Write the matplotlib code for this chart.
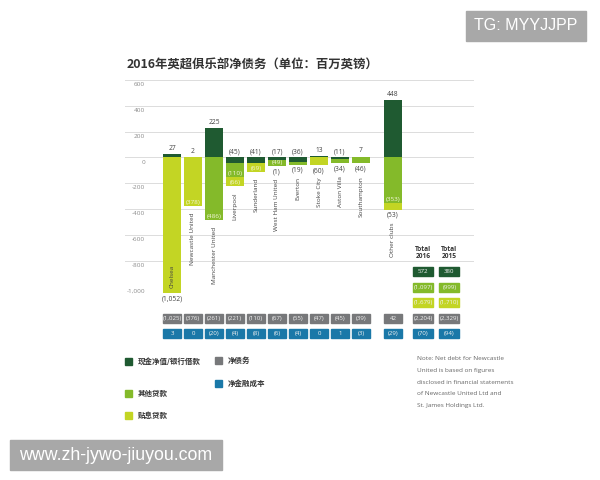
import matplotlib
matplotlib.use("Agg")
import matplotlib.pyplot as plt
from matplotlib.patches import Rectangle

# ---------------- data ----------------
clubs = ["Chelsea", "Newcastle United", "Manchester United", "Liverpool", "Sunderland",
         "West Ham United", "Everton", "Stoke City", "Aston Villa", "Southampton", "Other clubs"]
cash_bank = [27, 2, 225, -45, -41, -17, -36, 13, -11, 7, 448]
other_loans = [0, 0, -486, -110, 0, -49, -19, 0, -34, -46, -353]
soft_loans = [-1052, -378, 0, -66, -69, -1, 0, -60, 0, 0, -53]
net_debt = [-1025, -376, -261, -221, -110, -67, -55, -47, -45, -39, 42]
net_finance = [3, 0, -20, -4, -8, -6, -4, 0, 1, -3, -29]

total_labels = ["Total\n2016", "Total\n2015"]
total_cash = [572, 380]
total_other = [-1097, -999]
total_soft = [-1679, -1710]
total_net = [-2204, -2329]
total_fin = [-70, -94]

yticks = [600, 400, 200, 0, -200, -400, -600, -800, -1000]

title = "2016年英超俱乐部净债务（单位：百万英镑）"
legend_labels = ["现金净值/银行借款", "其他贷款", "贴息贷款", "净债务", "净金融成本"]
note_lines = ["Note: Net debt for Newcastle", "United is based on figures",
              "disclosed in financial statements", "of Newcastle United Ltd and",
              "St. James Holdings Ltd."]

# ---------------- style ----------------
DARK = "#1f5a31"
MID = "#84ba2a"
LIME = "#c3d524"
GRAY = "#77787a"
BLUE = "#1a78a8"
TXT = "#444444"

# where segment labels go: (other loans, soft loans)
seg_pos = [("", "below"), ("", "in"), ("in", ""), ("in", "in"), ("", "in"), ("in", "below"),
           ("below", ""), ("", "below"), ("below", ""), ("below", ""), ("in", "below")]
name_inside = [True] + [False] * 10
xpos = list(range(10)) + [10.52]
total_x = [11.95, 13.21]

W, H = 600, 480
def fx(x): return x / W
def fy(y): return 1 - y / H

plt.rcParams['font.family'] = ['Open Sans', 'DejaVu Sans']
fig = plt.figure(figsize=(6, 4.8), dpi=100)
ax = fig.add_axes([fx(125), fy(286.5), 349 / W, (286.5 - 80) / H])
ax.set_xlim(-(172 - 125) / 21, (474 - 172) / 21)
ax.set_ylim(-1000, 600)
for s in ax.spines.values():
    s.set_visible(False)
ax.set_xticks([])
ax.set_yticks(yticks)
ax.tick_params(left=False, labelleft=False)
ax.grid(axis='y', color='#dcdcdc', lw=0.7)
ax.set_axisbelow(True)

ytr = ax.get_yaxis_transform()
for t in yticks:
    ax.annotate(f"{t:,}", (0.057, t), xycoords=ytr, xytext=(0, -1.5), textcoords='offset points',
                ha='right', va='top', fontsize=4.6, color='#8a8a8a', annotation_clip=False)

def fmt(v):
    return f"({abs(v):,})" if v < 0 else f"{v:,}"

bw = 18 / 21
for i, club in enumerate(clubs):
    x = xpos[i]
    c = cash_bank[i]
    ax.bar(x, c, bw, bottom=0, color=DARK, zorder=3, clip_on=False)
    ax.annotate(fmt(c), (x, max(0, c)), xytext=(0, 1.5), textcoords='offset points',
                ha='center', va='bottom', fontsize=4.8, color=TXT, annotation_clip=False)
    bottom = min(0, c)
    below_labels = []
    for (v, col, pos) in [(other_loans[i], MID, seg_pos[i][0]), (soft_loans[i], LIME, seg_pos[i][1])]:
        if v == 0:
            continue
        ax.bar(x, v, bw, bottom=bottom, color=col, zorder=3, clip_on=False)
        bottom += v
        if pos == "in":
            ax.annotate(fmt(v), (x, bottom), xytext=(0, 0.8), textcoords='offset points',
                        ha='center', va='bottom', fontsize=4.6, color='#f4f6dc', zorder=5,
                        annotation_clip=False)
        elif pos == "below":
            below_labels.append(v)
    for v in below_labels:
        ax.annotate(fmt(v), (x, bottom), xytext=(0, -1.5), textcoords='offset points',
                    ha='center', va='top', fontsize=4.8, color=TXT, annotation_clip=False)
    if name_inside[i]:
        ax.annotate(club, (x, bottom), xytext=(0, 4), textcoords='offset points', rotation=90,
                    ha='center', va='bottom', fontsize=4.6, color=TXT, zorder=5,
                    annotation_clip=False)
    else:
        gap = 9 if below_labels else 4.5
        ax.annotate(club, (x, bottom), xytext=(0, -gap), textcoords='offset points', rotation=90,
                    ha='center', va='top', fontsize=4.6, color=TXT, annotation_clip=False)

# boxes rows
row_y = [-885, -1005, -1125, -1245, -1365]
box_h = 70
def box(x, y, w, val, col):
    ax.add_patch(Rectangle((x - w / 2, y - box_h / 2), w, box_h, color=col, clip_on=False, zorder=4))
    ax.text(x, y, fmt(val), ha='center', va='center', fontsize=4.4, color='#f2f2f2',
            clip_on=False, zorder=5)

for i in range(len(clubs)):
    box(xpos[i], row_y[3], bw, net_debt[i], GRAY)
    box(xpos[i], row_y[4], bw, net_finance[i], BLUE)

tw = 20 / 21
for j in range(2):
    x = total_x[j]
    ax.text(x, -742, total_labels[j], ha='center', va='center', fontsize=4.8, fontweight='bold',
            color='#333333', linespacing=1.1, clip_on=False)
    box(x, row_y[0], tw, total_cash[j], DARK)
    box(x, row_y[1], tw, total_other[j], MID)
    box(x, row_y[2], tw, total_soft[j], LIME)
    box(x, row_y[3], tw, total_net[j], GRAY)
    box(x, row_y[4], tw, total_fin[j], BLUE)

# title
fig.text(fx(127), fy(65), title, ha='left', va='center', fontsize=8.9, fontweight='bold',
         color='#333333', family=['Noto Sans CJK SC', 'DejaVu Sans'])

# legend
leg = [(125, 361.5, DARK, legend_labels[0]), (125, 393.5, MID, legend_labels[1]),
       (125, 415.5, LIME, legend_labels[2]), (215, 360.5, GRAY, legend_labels[3]),
       (215, 383.5, BLUE, legend_labels[4])]
for (lx, ly, col, lab) in leg:
    fig.add_artist(Rectangle((fx(lx), fy(ly + 3.5)), 7 / W, 7 / H, color=col, transform=fig.transFigure))
    fig.text(fx(lx + 13), fy(ly), lab, ha='left', va='center', fontsize=5.4, fontweight='bold',
             color='#333333', family=['Noto Sans CJK SC', 'DejaVu Sans'])

for k, line in enumerate(note_lines):
    fig.text(fx(417), fy(359 + k * 11.5), line, ha='left', va='center', fontsize=4.6, color='#666666')

# watermarks
fig.add_artist(Rectangle((fx(466), fy(41)), 120 / W, 30 / H, color='#a8a8a8', transform=fig.transFigure))
fig.text(fx(526), fy(26), "TG: MYYJJPP", ha='center', va='center', fontsize=11.5, color='white',
         family=['Liberation Sans', 'DejaVu Sans'])
fig.add_artist(Rectangle((fx(10), fy(470)), 212 / W, 30 / H, color='#a8a8a8', transform=fig.transFigure))
fig.text(fx(116), fy(455), "www.zh-jywo-jiuyou.com", ha='center', va='center', fontsize=12.8,
         color='white', family=['Liberation Sans', 'DejaVu Sans'])

fig.savefig("out.png", dpi=100, facecolor='white')
